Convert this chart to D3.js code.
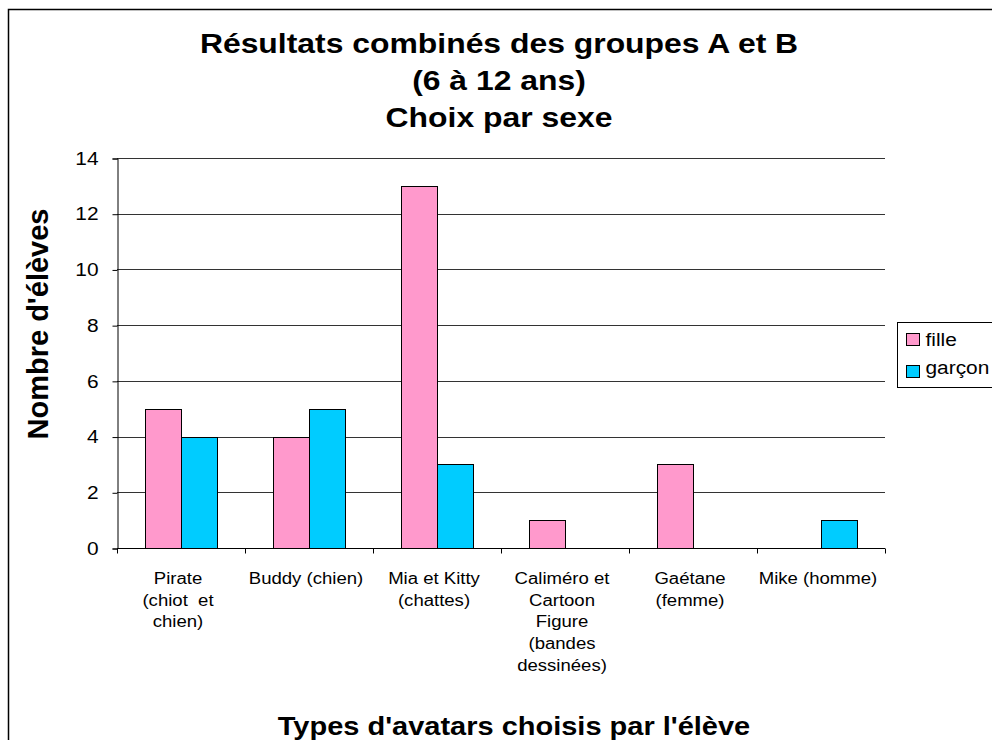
<!DOCTYPE html>
<html>
<head>
<meta charset="utf-8">
<script src="https://cdn.jsdelivr.net/npm/d3@7"></script>
<style>
  html, body { margin: 0; padding: 0; background: #fff; }
  svg { display: block; font-family: "Liberation Sans", Arial, sans-serif; }
  text { white-space: pre; }
</style>
</head>
<body>
<svg id="chart" width="992" height="740"></svg>
<script>
// ---- data ----
const titleLines = ["Résultats combinés des groupes A et B", "(6 à 12 ans)", "Choix par sexe"];
const categories = [
  "Pirate\n(chiot  et\nchien)",
  "Buddy (chien)",
  "Mia et Kitty\n(chattes)",
  "Caliméro et\nCartoon\nFigure\n(bandes\ndessinées)",
  "Gaétane\n(femme)",
  "Mike (homme)"
];
const seriesNames = ["fille", "garçon"];
const filleValues = [5, 4, 13, 1, 3, 0];
const garconValues = [4, 5, 3, 0, 0, 1];
const yTicks = [0, 2, 4, 6, 8, 10, 12, 14];
const xTitle = "Types d'avatars choisis par l'élève";
const yTitle = "Nombre d'élèves";
const colors = ["#FF99CC", "#00CCFF"];

// ---- layout ----
const SX = 1.16; // horizontal glyph stretch seen in the reference
const svg = d3.select("#chart");
const plot = { left: 117, right: 885, top: 158, bottom: 548 };

// outer border
svg.append("rect").attr("x", 8.5).attr("y", 9.5).attr("width", 1000).attr("height", 800)
  .attr("fill", "none").attr("stroke", "#000").attr("stroke-width", 1.5);

const x0 = d3.scaleBand().domain(categories).range([plot.left, plot.right]).padding(0);
const x1 = d3.scaleBand().domain(seriesNames).range([28.5, 100.5]).padding(0);
const y = d3.scaleLinear().domain([0, 14]).range([plot.bottom, plot.top]);

// gridlines
svg.append("g").selectAll("line").data(yTicks.filter(d => d > 0)).join("line")
  .attr("x1", plot.left).attr("x2", plot.right)
  .attr("y1", d => Math.round(y(d)) + 0.5).attr("y2", d => Math.round(y(d)) + 0.5)
  .attr("stroke", "#333").attr("stroke-width", 1);

// bars
const rows = categories.map((c, i) => ({ cat: c, vals: [filleValues[i], garconValues[i]] }));
const groups = svg.append("g").selectAll("g").data(rows).join("g")
  .attr("transform", d => `translate(${x0(d.cat)},0)`);
groups.selectAll("rect").data(d => d.vals.map((v, j) => ({ v, s: seriesNames[j], j })))
  .join("rect")
  .filter(d => d.v > 0)
  .attr("x", d => x1(d.s))
  .attr("y", d => Math.round(y(d.v)) + 0.5)
  .attr("width", x1.bandwidth())
  .attr("height", d => Math.round(y(0)) - Math.round(y(d.v)))
  .attr("fill", d => colors[d.j])
  .attr("stroke", "#000").attr("stroke-width", 1);

// y axis
const yAxis = d3.axisLeft(y).tickValues(yTicks).tickSize(5).tickPadding(14);
const yg = svg.append("g").attr("transform", `translate(${plot.left + 0.5},0.5)`).call(yAxis);
yg.select(".domain").attr("stroke", "#000");
yg.selectAll(".tick line").attr("stroke", "#000");
yg.selectAll(".tick text").attr("font-size", 18).attr("fill", "#000")
  .attr("font-family", "Liberation Sans, Arial, sans-serif")
  .attr("x", 0).attr("transform", `translate(-19,0) scale(${SX},1)`);

// x axis
const xAxis = d3.axisBottom(x0).tickSize(0).tickFormat("");
const xg = svg.append("g").attr("transform", `translate(0,${plot.bottom + 0.5})`).call(xAxis);
xg.select(".domain").attr("stroke", "#000").attr("d", `M${plot.left},0H${plot.right}`);
const bounds = categories.map(c => x0(c)).concat([plot.right]);
xg.append("g").selectAll("line").data(bounds).join("line")
  .attr("x1", d => Math.round(d) + 0.5).attr("x2", d => Math.round(d) + 0.5)
  .attr("y1", 0).attr("y2", 5).attr("stroke", "#000");

// category labels
const lab = svg.append("g").selectAll("text").data(categories).join("text")
  .attr("transform", d => `translate(${x0(d) + x0.bandwidth() / 2 - 3},584) scale(${SX},1)`)
  .attr("text-anchor", "middle")
  .attr("font-size", 16).attr("fill", "#000");
lab.each(function(d) {
  const t = d3.select(this);
  d.split("\n").forEach((line, i) => {
    t.append("tspan").attr("x", 0).attr("dy", i === 0 ? 0 : 21.7).text(line);
  });
});

// title
svg.append("g").selectAll("text").data(titleLines).join("text")
  .attr("transform", (d, i) => `translate(499,${53 + i * 37}) scale(${SX},1)`)
  .attr("text-anchor", "middle").attr("font-size", 27.5).attr("font-weight", "bold")
  .text(d => d);

// axis titles
svg.append("text").attr("transform", `translate(514,735) scale(${SX},1)`)
  .attr("text-anchor", "middle").attr("font-size", 25).attr("font-weight", "bold").text(xTitle);
svg.append("text").attr("transform", "translate(48,324) rotate(-90)")
  .attr("text-anchor", "middle").attr("font-size", 29).attr("font-weight", "bold").text(yTitle);

// legend
const lg = svg.append("g").attr("transform", "translate(897.5,322.5)");
lg.append("rect").attr("width", 120).attr("height", 65).attr("fill", "#fff").attr("stroke", "#000");
seriesNames.forEach((s, i) => {
  lg.append("rect").attr("x", 9).attr("y", 11 + i * 32).attr("width", 13).attr("height", 12)
    .attr("fill", colors[i]).attr("stroke", "#000");
  lg.append("text").attr("transform", `translate(28,${23 + i * 28.5}) scale(${SX},1)`)
    .attr("font-size", 18).text(s);
});
</script>
</body>
</html>
